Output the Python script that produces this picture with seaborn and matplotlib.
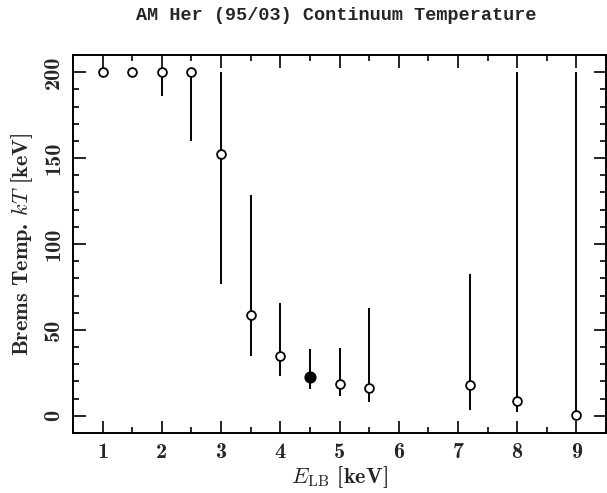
import matplotlib
matplotlib.use("Agg")
import matplotlib.pyplot as plt
import seaborn as sns
import numpy as np
import pandas as pd
from matplotlib.ticker import MultipleLocator

# data
e_lb = [1.0, 1.5, 2.0, 2.5, 3.0, 3.5, 4.0, 4.5, 5.0, 5.5, 7.2, 8.0, 9.0]
kt = [200, 200, 200, 200, 152.5, 58.7, 35.0, 22.6, 18.5, 16.2, 18.2, 8.7, 0.6]
kt_lo = [200, 200, 186, 160, 76.5, 34.8, 23.0, 15.6, 11.8, 8.0, 3.5, 2.3, 0.0]
kt_hi = [200, 200, 200, 200, 200, 128.7, 65.5, 38.8, 39.4, 62.6, 82.3, 200, 200]
filled = [False, False, False, False, False, False, False, True, False, False, False, False, False]

df = pd.DataFrame({"E": e_lb, "kT": kt, "lo": kt_lo, "hi": kt_hi, "filled": filled})

sns.set_style("ticks")
plt.rcParams["mathtext.fontset"] = "cm"
plt.rcParams["axes.unicode_minus"] = False

fig = plt.figure(figsize=(6.07, 4.93), dpi=100)
ax = fig.add_axes([73/607, 1-433/493, (606-73)/607, (433-55)/493])

ax.vlines(df["E"], df["lo"], df["hi"], color="black", lw=1.4, zorder=2)

sns.scatterplot(data=df[~df["filled"]], x="E", y="kT", ax=ax, marker="o", s=40,
                facecolor="white", edgecolor="black", linewidth=1.3, zorder=3, legend=False)
sns.scatterplot(data=df[df["filled"]], x="E", y="kT", ax=ax, marker="o", s=60,
                color="black", edgecolor="black", linewidth=1.0, zorder=3, legend=False)

ax.set_xlim(0.5, 9.5)
ax.set_ylim(-10, 210)
ax.xaxis.set_major_locator(MultipleLocator(1))
ax.xaxis.set_minor_locator(MultipleLocator(0.5))
ax.yaxis.set_major_locator(MultipleLocator(50))
ax.yaxis.set_minor_locator(MultipleLocator(10))
ax.tick_params(which="both", direction="in", top=True, right=True, color="black", width=1.2)
ax.tick_params(which="major", length=9, labelsize=16, labelfontfamily="cmb10")
ax.tick_params(which="minor", length=4.5)
ax.tick_params(axis="x", which="major", pad=7)
ax.tick_params(axis="y", which="major", pad=7, labelrotation=90)
for sp in ax.spines.values():
    sp.set_linewidth(1.4)
    sp.set_color("black")

ax.set_xlabel(r"$E_{\rm LB}$ [keV]", fontsize=16, family="cmb10", labelpad=2)
ax.set_ylabel(r"Brems Temp. $kT$ [keV]", fontsize=16, family="cmb10", labelpad=7)
fig.text(336/607, 1 - 16/493, "AM Her (95/03) Continuum Temperature", ha="center", va="center",
         fontsize=13.3, family="Liberation Mono", fontweight="bold")

fig.canvas.draw()
for lab in ax.get_yticklabels():
    lab.set_va("center")
fig.savefig("out.png", dpi=100)
